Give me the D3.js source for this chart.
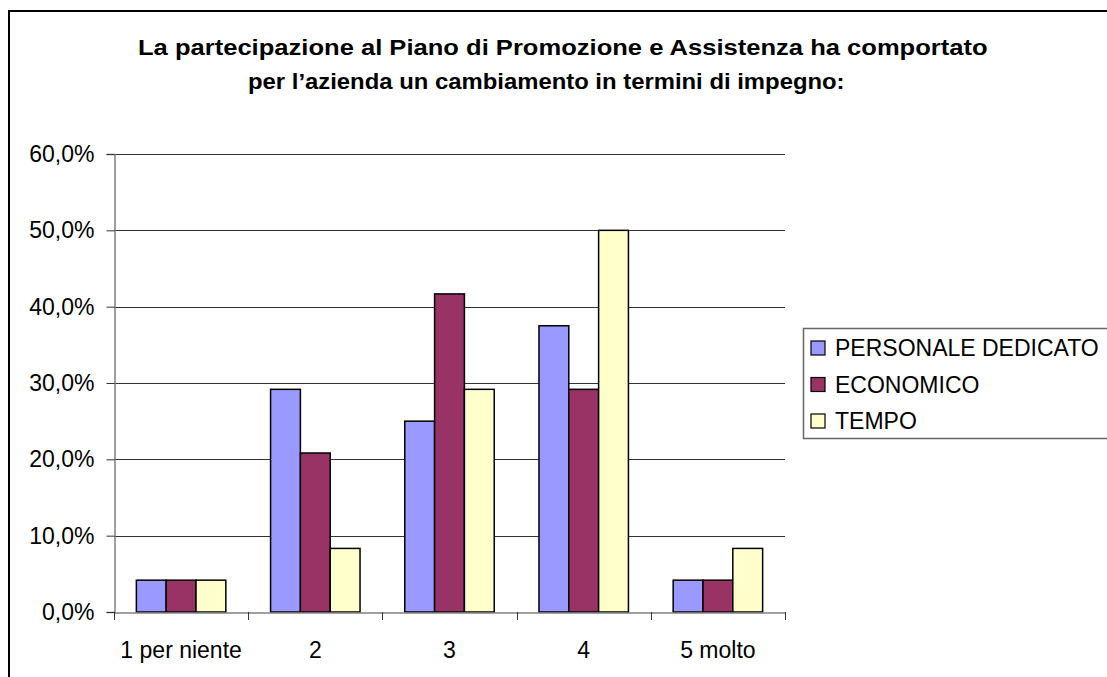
<!DOCTYPE html>
<html><head><meta charset="utf-8">
<script src="https://cdn.jsdelivr.net/npm/d3@7"></script>
<style>body{margin:0;background:#fff;} svg{display:block;}</style>
</head><body>
<svg id="c" width="1107" height="677"></svg>
<script>
const categories = ["1 per niente", "2", "3", "4", "5 molto"];
const seriesNames = ["PERSONALE DEDICATO", "ECONOMICO", "TEMPO"];
const personale = [4.17, 29.17, 25.0, 37.5, 4.17];
const economico = [4.17, 20.83, 41.67, 29.17, 4.17];
const tempo = [4.17, 8.33, 29.17, 50.0, 8.33];
const yTicks = [0, 10, 20, 30, 40, 50, 60];
const colors = ["#9999FF", "#993366", "#FFFFCC"];
const titleLines = ["La partecipazione al Piano di Promozione e Assistenza ha comportato",
                    "per l\u2019azienda un cambiamento in termini di impegno:"];

(function () {
const series = [personale, economico, tempo];
const svg = d3.select("#c");
const font = "'Liberation Sans', Arial, sans-serif";

// outer frame
svg.append("rect").attr("x", 9).attr("y", 11).attr("width", 1200).attr("height", 800)
  .attr("fill", "none").attr("stroke", "#000").attr("stroke-width", 2);

// title (glyphs stretched horizontally to match the reference width)
const titleX = [138, 248];
const titleW = [850, 597];
titleLines.forEach((t, i) => {
  const tg = svg.append("g");
  const tx = tg.append("text").attr("x", 0).attr("y", 0)
    .attr("font-family", font).attr("font-weight", "bold").attr("font-size", 21.5).text(t);
  const w = tx.node().getComputedTextLength();
  tg.attr("transform", `translate(${titleX[i]},${55 + i * 34}) scale(${titleW[i] / w},1)`);
});

const pl = 114, pr = 785, pt = 154, pb = 612;
const x0 = d3.scaleBand().domain(categories).range([pl, pr]).paddingInner(0).paddingOuter(0);
const y = d3.scaleLinear().domain([0, 60]).range([pb, pt]);
const innerPad = x0.bandwidth() * 1.5 / 4.5 / 2;
const x1 = d3.scaleBand().domain(d3.range(3))
  .range([innerPad, x0.bandwidth() - innerPad]).padding(0);

// gridlines
svg.append("g").selectAll("line").data(yTicks.filter(d => d > 0)).join("line")
  .attr("x1", pl).attr("x2", pr)
  .attr("y1", d => Math.round(y(d)) + 0.5).attr("y2", d => Math.round(y(d)) + 0.5)
  .attr("stroke", "#333").attr("stroke-width", 1);

// bars
const g = svg.append("g");
categories.forEach((c, ci) => {
  series.forEach((s, si) => {
    g.append("rect")
      .attr("x", x0(c) + x1(si)).attr("width", x1.bandwidth())
      .attr("y", y(s[ci])).attr("height", y(0) - y(s[ci]))
      .attr("fill", colors[si]).attr("stroke", "#000").attr("stroke-width", 1.5);
  });
});

// y axis
const yAxis = d3.axisLeft(y).tickValues(yTicks).tickSize(8).tickPadding(12)
  .tickFormat(d => d.toFixed(1).replace(".", ",") + "%");
const ya = svg.append("g").attr("transform", `translate(${pl + 0.5},0)`).call(yAxis);
ya.select(".domain").attr("stroke", "#808080").attr("stroke-width", 1.5);
ya.selectAll(".tick line").attr("stroke", "#333");
ya.selectAll(".tick text").attr("font-family", font).attr("font-size", 23).attr("fill", "#000");

// x axis
const xAxis = d3.axisBottom(x0).tickSize(0).tickPadding(29);
const xa = svg.append("g").attr("transform", `translate(0,${pb + 0.5})`).call(xAxis);
xa.select(".domain").attr("stroke", "#808080").attr("stroke-width", 1.5);
xa.selectAll(".tick text").attr("font-family", font).attr("font-size", 23).attr("fill", "#000");
// category boundary ticks
const bounds = categories.map(c => x0(c)).concat([x0(categories[categories.length - 1]) + x0.bandwidth()]);
svg.append("g").selectAll("line").data(bounds).join("line")
  .attr("x1", d => Math.round(d) + 0.5).attr("x2", d => Math.round(d) + 0.5)
  .attr("y1", pb).attr("y2", pb + 8)
  .attr("stroke", "#333").attr("stroke-width", 1);

// legend
const lg = svg.append("g");
lg.append("rect").attr("x", 803.5).attr("y", 328.5).attr("width", 400).attr("height", 110)
  .attr("fill", "#fff").attr("stroke", "#666").attr("stroke-width", 1.5);
seriesNames.forEach((n, i) => {
  const yy = 341 + i * 36.5;
  lg.append("rect").attr("x", 811).attr("y", yy).attr("width", 14).attr("height", 14)
    .attr("fill", colors[i]).attr("stroke", "#000").attr("stroke-width", 1.2);
  lg.append("text").attr("x", 835).attr("y", yy + 7).attr("dy", "0.35em")
    .attr("font-family", font).attr("font-size", 23).text(n);
});
})();
</script>
</body></html>
